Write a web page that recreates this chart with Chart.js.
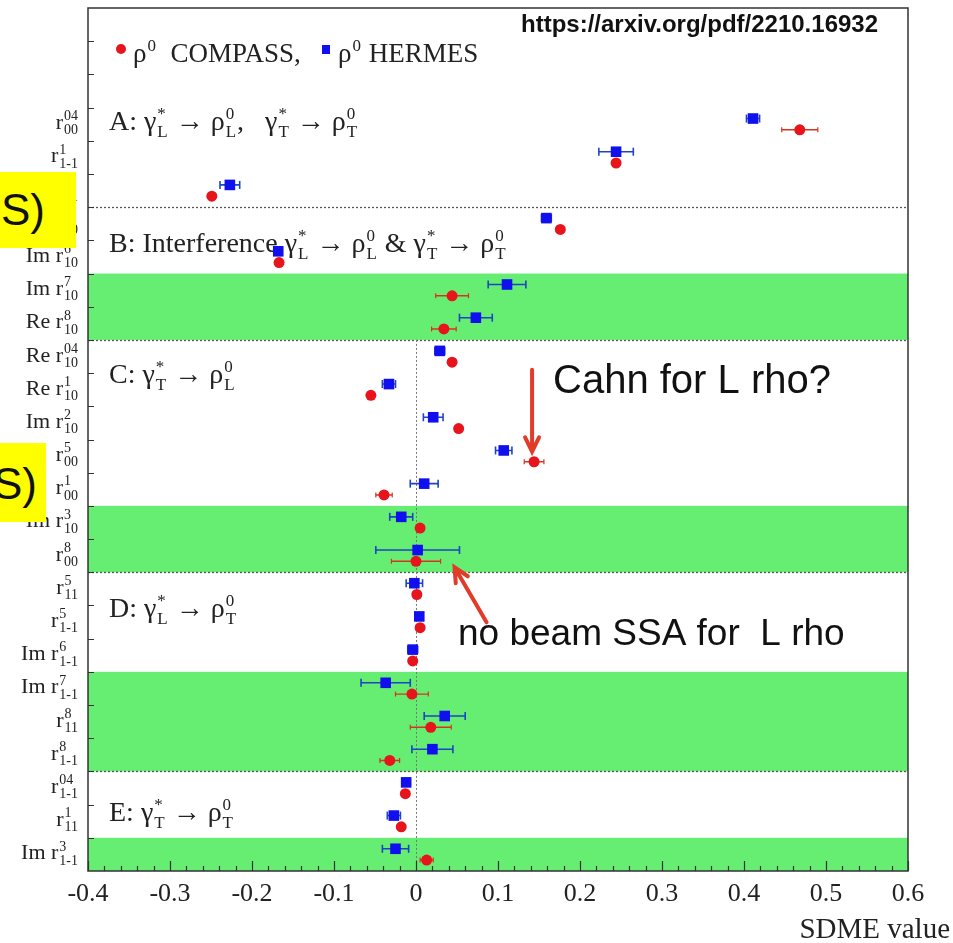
<!DOCTYPE html>
<html lang="en">
<head>
  <meta charset="UTF-8" />
  <title>SDME comparison COMPASS / HERMES</title>
  <script src="https://cdn.jsdelivr.net/npm/chart.js"></script>
  <style>
    body { margin: 0; background: #fff; }
    #wrap { position: relative; width: 953px; height: 943px; overflow: hidden; }
    /* yellow slide boxes on the left edge */
    .note { position: absolute; background: #ffff00; overflow: hidden; }
    .note span { position: absolute; font-family: "Liberation Sans", Arial, sans-serif; font-size: 44px; line-height: 1; color: #111; white-space: nowrap; }
  </style>
</head>
<body>
  <div id="wrap">
    <canvas id="sdmeChart" width="953" height="943"></canvas>
    <div class="note" style="left:0; top:172px; width:76px; height:76px;"><span style="left:1px; top:16px;">S)</span></div>
    <div class="note" style="left:0; top:443px; width:46px; height:79px;"><span style="left:-7px; top:19px;">S)</span></div>
  </div>

  <script>
    // SDME names: prefix + r^{sup}_{sub}
    const sdmeNames = [
      'r^04_00', 'r^1_1-1', 'Im r^2_1-1',
      'Re r^5_10', 'Im r^6_10', 'Im r^7_10', 'Re r^8_10',
      'Re r^04_10', 'Re r^1_10', 'Im r^2_10', 'r^5_00', 'r^1_00', 'Im r^3_10', 'r^8_00',
      'r^5_11', 'r^5_1-1', 'Im r^6_1-1', 'Im r^7_1-1', 'r^8_11', 'r^8_1-1',
      'r^04_1-1', 'r^1_11', 'Im r^3_1-1'
    ];

    // HERMES values and errors
    const hermesVal = [0.411, 0.244, -0.227, 0.159, -0.168, 0.111, 0.073, 0.029, -0.033, 0.021, 0.107, 0.010, -0.018, 0.002,
                       -0.002, 0.004, -0.004, -0.037, 0.035, 0.020, -0.012, -0.027, -0.025];
    const hermesErr = [0.008, 0.021, 0.012, 0.006, 0.004, 0.023, 0.020, 0.006, 0.008, 0.012, 0.010, 0.017, 0.014, 0.051,
                       0.010, 0.004, 0.006, 0.030, 0.025, 0.025, 0.005, 0.008, 0.016];

    // COMPASS values and errors
    const compassVal = [0.468, 0.244, -0.249, 0.176, -0.167, 0.044, 0.034, 0.044, -0.055, 0.052, 0.144, -0.039, 0.005, 0.000,
                        0.001, 0.005, -0.004, -0.005, 0.018, -0.032, -0.013, -0.018, 0.013];
    const compassErr = [0.022, 0.004, 0.004, 0.004, 0.003, 0.020, 0.015, 0.004, 0.004, 0.004, 0.012, 0.010, 0.004, 0.030,
                        0.003, 0.003, 0.003, 0.020, 0.025, 0.012, 0.003, 0.003, 0.008];

    const xTickValues = [-0.4, -0.3, -0.2, -0.1, 0, 0.1, 0.2, 0.3, 0.4, 0.5, 0.6];
    const xTickLabels = ['-0.4', '-0.3', '-0.2', '-0.1', '0', '0.1', '0.2', '0.3', '0.4', '0.5', '0.6'];

    // row layout: 3 header rows, then one row per SDME
    const firstRow = 3;
    const nRows = firstRow + sdmeNames.length;
    const greenBands = [[8, 10], [15, 17], [20, 23], [25, 26]];
    const dottedRows = [6, 10, 17, 23];

    const hermesPts = hermesVal.map((v, i) => ({ x: v, y: firstRow + i + 0.33 }));
    const compassPts = compassVal.map((v, i) => ({ x: v, y: firstRow + i + 0.67 }));

    function errSegments(vals, errs, off) {
      const out = [];
      vals.forEach((v, i) => {
        const y = firstRow + i + off;
        out.push({ x: v - errs[i], y: y }, { x: v + errs[i], y: y }, { x: null, y: null });
      });
      return out;
    }

    const SERIF = '"Liberation Serif", "Times New Roman", serif';
    const SANS = '"Liberation Sans", Arial, sans-serif';

    // draw text with stacked super/subscripts; parts are strings or {b, sup, sub}
    function rich(ctx, x, y, parts, size, dry) {
      let cx = x;
      const small = Math.round(size * 0.62);
      parts.forEach(p => {
        if (typeof p === 'string') p = { b: p };
        ctx.font = size + 'px ' + SERIF;
        if (!dry) ctx.fillText(p.b, cx, y);
        cx += ctx.measureText(p.b).width;
        if (p.sup || p.sub) {
          ctx.font = small + 'px ' + SERIF;
          let w = 0;
          if (p.sup) { if (!dry) ctx.fillText(p.sup, cx + 1, y - size * 0.40); w = ctx.measureText(p.sup).width; }
          if (p.sub) { if (!dry) ctx.fillText(p.sub, cx + 1, y + size * 0.24); w = Math.max(w, ctx.measureText(p.sub).width); }
          cx += w + 2;
        }
      });
      return cx - x;
    }

    function chevronArrow(ctx, x0, y0, x1, y1, head) {
      const ang = Math.atan2(y1 - y0, x1 - x0);
      ctx.beginPath();
      ctx.moveTo(x0, y0); ctx.lineTo(x1, y1);
      ctx.moveTo(x1 - Math.cos(ang - 0.45) * head, y1 - Math.sin(ang - 0.45) * head);
      ctx.lineTo(x1, y1);
      ctx.lineTo(x1 - Math.cos(ang + 0.45) * head, y1 - Math.sin(ang + 0.45) * head);
      ctx.stroke();
    }

    const gL = { b: 'γ', sup: '*', sub: 'L' }, gT = { b: 'γ', sup: '*', sub: 'T' };
    const rL = { b: 'ρ', sup: '0', sub: 'L' }, rT = { b: 'ρ', sup: '0', sub: 'T' };
    const headers = [
      { row: 3.37, parts: ['A: ', gL, ' → ', rL, ',   ', gT, ' → ', rT] },
      { row: 7.05, parts: ['B: Interference ', gL, ' → ', rL, ' & ', gT, ' → ', rT] },
      { row: 11.0, parts: ['C: ', gT, ' → ', rL] },
      { row: 18.05, parts: ['D: ', gL, ' → ', rT] },
      { row: 24.2, parts: ['E: ', gT, ' → ', rT] }
    ];

    const decor = {
      id: 'decor',
      beforeDatasetsDraw(chart) {
        const { ctx, chartArea: a, scales: { x, y } } = chart;
        ctx.save();
        // green bands
        ctx.fillStyle = '#66ee72';
        greenBands.forEach(([r0, r1]) => {
          const y0 = y.getPixelForValue(r0), y1 = y.getPixelForValue(r1);
          ctx.fillRect(a.left, y0, a.right - a.left, y1 - y0);
        });
        // dotted separators
        ctx.strokeStyle = '#555';
        ctx.lineWidth = 1.3;
        ctx.setLineDash([2, 2]);
        dottedRows.forEach(r => {
          const yy = Math.round(y.getPixelForValue(r)) + 0.5;
          ctx.beginPath(); ctx.moveTo(a.left, yy); ctx.lineTo(a.right, yy); ctx.stroke();
        });
        const x0 = Math.round(x.getPixelForValue(0)) + 0.5;
        ctx.strokeStyle = '#777';
        ctx.lineWidth = 1;
        ctx.beginPath(); ctx.moveTo(x0, y.getPixelForValue(10)); ctx.lineTo(x0, a.bottom); ctx.stroke();
        ctx.setLineDash([]);

        // legend row
        ctx.fillStyle = '#e8141c';
        ctx.beginPath(); ctx.arc(121, 49, 5, 0, Math.PI * 2); ctx.fill();
        ctx.fillStyle = '#1010ee';
        ctx.fillRect(322, 45, 8, 9);
        ctx.fillStyle = '#222';
        ctx.textBaseline = 'alphabetic';
        ctx.textAlign = 'left';
        rich(ctx, 133, 62, [{ b: 'ρ', sup: '0' }, '  COMPASS,'], 27);
        rich(ctx, 338, 62, [{ b: 'ρ', sup: '0' }, ' HERMES'], 27);

        // section headers
        headers.forEach(h => rich(ctx, a.left + 21, y.getPixelForValue(h.row) + 10, h.parts, 28));
        ctx.restore();
      },
      afterDraw(chart) {
        const { ctx, chartArea: a, scales: { x, y } } = chart;
        ctx.save();
        // frame
        ctx.strokeStyle = '#333';
        ctx.lineWidth = 1.5;
        ctx.strokeRect(a.left, a.top, a.right - a.left, a.bottom - a.top);
        // inward ticks
        ctx.lineWidth = 1.2;
        ctx.beginPath();
        for (let i = -20; i <= 30; i++) {
          const px = Math.round(x.getPixelForValue(i / 50)) + 0.5;
          const len = i % 5 === 0 ? 10 : 5;
          ctx.moveTo(px, a.bottom); ctx.lineTo(px, a.bottom - len);
        }
        for (let r = 1; r < nRows; r++) {
          const py = Math.round(y.getPixelForValue(r)) + 0.5;
          ctx.moveTo(a.left, py); ctx.lineTo(a.left + 6, py);
        }
        ctx.stroke();

        // y category labels
        ctx.fillStyle = '#222';
        ctx.textAlign = 'left';
        ctx.textBaseline = 'alphabetic';
        sdmeNames.forEach((name, i) => {
          const m = name.match(/^(.*)r\^(\S+)_(\S+)$/);
          const parts = [{ b: m[1] + 'r', sup: m[2], sub: m[3] }];
          const w = rich(ctx, 0, 0, parts, 22, true);
          const py = y.getPixelForValue(firstRow + i + 0.5) + 5;
          rich(ctx, 79 - w, py, parts, 22);
        });

        // x axis title
        ctx.font = '29px ' + SERIF;
        ctx.textAlign = 'right';
        ctx.fillText('SDME value', 950, 938);

        // slide annotations
        ctx.textAlign = 'left';
        ctx.fillStyle = '#111';
        ctx.font = 'bold 24px ' + SANS;
        ctx.fillText('https://arxiv.org/pdf/2210.16932', 521, 32);
        ctx.font = '40px ' + SANS;
        ctx.fillText('Cahn for L rho?', 553, 393);
        ctx.font = '37px ' + SANS;
        ctx.fillText('no beam SSA for  L rho', 458, 645);

        ctx.strokeStyle = '#e23b2a';
        ctx.lineWidth = 4;
        ctx.lineCap = 'round';
        const tx = x.getPixelForValue(compassVal[10]) - 2;
        const ty = y.getPixelForValue(firstRow + 10 + 0.67) - 10;
        chevronArrow(ctx, tx, ty - 82, tx, ty, 16);
        const sx = x.getPixelForValue(0.047), sy = y.getPixelForValue(firstRow + 13 + 0.67) + 6;
        chevronArrow(ctx, sx + 32, sy + 55, sx, sy, 16);
        ctx.restore();
      }
    };

    const ctx = document.getElementById('sdmeChart').getContext('2d');
    const sdmeChart = new Chart(ctx, {
      type: 'scatter',
      data: {
        datasets: [
          {
            label: 'ρ0 HERMES',
            data: hermesPts,
            pointStyle: 'rect',
            pointRadius: 7.5,
            backgroundColor: '#1010ee',
            borderColor: '#1010ee',
            borderWidth: 0,
            order: 0
          },
          {
            label: 'ρ0 COMPASS',
            data: compassPts,
            pointStyle: 'circle',
            pointRadius: 5.5,
            backgroundColor: '#e8141c',
            borderColor: '#e8141c',
            borderWidth: 0,
            order: 0
          },
          {
            label: 'HERMES errors',
            data: errSegments(hermesVal, hermesErr, 0.33),
            showLine: true,
            spanGaps: false,
            borderColor: '#1c44c4',
            borderWidth: 1.6,
            pointStyle: 'line',
            rotation: 90,
            pointRadius: 4,
            pointBorderColor: '#1c44c4',
            pointBorderWidth: 1.6,
            order: 1
          },
          {
            label: 'COMPASS errors',
            data: errSegments(compassVal, compassErr, 0.67),
            showLine: true,
            spanGaps: false,
            borderColor: '#d8341c',
            borderWidth: 1.4,
            pointStyle: 'line',
            rotation: 90,
            pointRadius: 2.5,
            pointBorderColor: '#d8341c',
            pointBorderWidth: 1.2,
            order: 1
          }
        ]
      },
      options: {
        responsive: false,
        animation: false,
        devicePixelRatio: 1,
        events: [],
        layout: { padding: { top: 8, right: 45, left: 0, bottom: 0 } },
        plugins: { legend: { display: false }, tooltip: { enabled: false } },
        scales: {
          x: {
            type: 'linear',
            min: -0.4,
            max: 0.6,
            afterBuildTicks: s => { s.ticks = xTickValues.map(v => ({ value: v })); },
            afterFit: s => { s.height = 72; },
            ticks: {
              autoSkip: false,
              maxRotation: 0,
              padding: 8,
              color: '#222',
              font: { family: SERIF, size: 26 },
              callback: (v, i) => xTickLabels[i]
            },
            grid: { display: false, drawTicks: false },
            border: { display: false }
          },
          y: {
            type: 'linear',
            min: 0,
            max: nRows,
            reverse: true,
            afterFit: s => { s.width = 88; },
            ticks: { display: false },
            grid: { display: false, drawTicks: false },
            border: { display: false }
          }
        }
      },
      plugins: [decor]
    });
  </script>
</body>
</html>
